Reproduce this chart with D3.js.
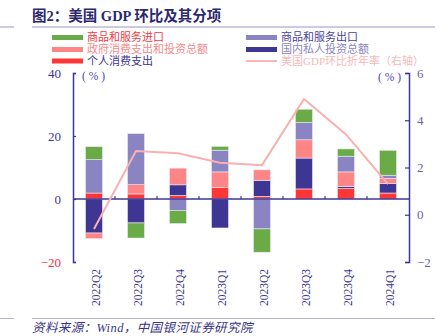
<!DOCTYPE html>
<html>
<head>
<meta charset="utf-8">
<script src="https://cdn.jsdelivr.net/npm/d3@7"></script>
<style>
  body { margin: 0; background: #fff; }
  svg text { font-family: "Liberation Serif", "Noto Sans CJK SC", serif; }
</style>
</head>
<body>
<div id="chart"></div>
<script>
// quarters and contributions (%), GDP q/q annualised on the right axis
const quarters = ["2022Q2", "2022Q3", "2022Q4", "2023Q1", "2023Q2", "2023Q3", "2023Q4", "2024Q1"];
const consumption = [1.9, 1.6, 1.1, 3.7, 0.85, 3.2, 3.3, 1.9];
const investment = [-10.8, -7.6, 3.4, -9.2, 5.1, 9.8, 0.7, 3.0];
const government = [-1.8, 2.95, 5.3, 4.9, 3.3, 5.8, 4.6, 1.6];
const exports = [10.6, 16.2, -3.6, 6.9, -9.5, 5.5, 5.0, 1.05];
const imports = [4.1, -4.8, -4.2, 1.2, -7.4, 4.2, 2.3, 7.9];
const gdp = [-0.6, 2.7, 2.6, 2.2, 2.1, 4.9, 3.4, 1.3];
const leftTicks = [-20, 0, 20, 40];
const rightTicks = [-2, 0, 2, 4, 6];

const W = 446, H = 336;
const navy = "#3d3694";

const keys = ["consumption", "investment", "government", "exports", "imports"];
const colors = {
  consumption: "#ff3636",
  investment: "#3f3592",
  government: "#fd8585",
  exports: "#8b84c2",
  imports: "#6aab48"
};

const rows = quarters.map((q, i) => ({
  q: q,
  consumption: consumption[i],
  investment: investment[i],
  government: government[i],
  exports: exports[i],
  imports: imports[i]
}));

const svg = d3.select("#chart").append("svg")
  .attr("width", W)
  .attr("height", H);

// title and rules
svg.append("text")
  .attr("x", 32).attr("y", 21)
  .attr("fill", "#2b2870")
  .style("font-size", "14.5px")
  .style("font-weight", "bold")
  .text("图2：美国 GDP 环比及其分项");

svg.append("line").attr("x1", 0).attr("x2", 14).attr("y1", 27).attr("y2", 27)
  .attr("stroke", "#9a96c8").attr("stroke-width", 1);
svg.append("line").attr("x1", 32).attr("x2", 435).attr("y1", 27).attr("y2", 27)
  .attr("stroke", "#9a96c8").attr("stroke-width", 1);

svg.append("line").attr("x1", 0).attr("x2", 14).attr("y1", 318.5).attr("y2", 318.5)
  .attr("stroke", "#b4b1d8").attr("stroke-width", 1);
svg.append("line").attr("x1", 32).attr("x2", 435).attr("y1", 318.5).attr("y2", 318.5)
  .attr("stroke", "#b4b1d8").attr("stroke-width", 1);

svg.append("text")
  .attr("x", 32).attr("y", 332)
  .attr("fill", "#3a3585")
  .style("font-size", "12.5px")
  .style("font-style", "italic")
  .style("letter-spacing", "0.4px")
  .text("资料来源：Wind，中国银河证券研究院");

// legend
const legend = [
  { label: "商品和服务进口", color: colors.imports, text: "#f03a46", x: 52, y: 37.5, type: "bar" },
  { label: "政府消费支出和投资总额", color: colors.government, text: "#f58a8a", x: 52, y: 49.5, type: "bar" },
  { label: "个人消费支出", color: colors.consumption, text: "#3b3590", x: 52, y: 61, type: "bar" },
  { label: "商品和服务出口", color: colors.exports, text: "#4a4398", x: 246, y: 37.5, type: "bar" },
  { label: "国内私人投资总额", color: colors.investment, text: "#8a85c0", x: 246, y: 49.5, type: "bar" },
  { label: "美国GDP环比折年率（右轴）", color: "#f9b4b4", text: "#f8b8b8", x: 246, y: 61, type: "line" }
];

const lg = svg.append("g").attr("class", "legend");
legend.forEach(d => {
  if (d.type === "bar") {
    lg.append("rect")
      .attr("x", d.x).attr("y", d.y - 2.5)
      .attr("width", 31).attr("height", 5)
      .attr("fill", d.color);
  } else {
    lg.append("line")
      .attr("x1", d.x).attr("x2", d.x + 31)
      .attr("y1", d.y).attr("y2", d.y)
      .attr("stroke", d.color).attr("stroke-width", 2);
  }
  lg.append("text")
    .attr("x", d.x + 35).attr("y", d.y)
    .attr("dy", "0.36em")
    .attr("fill", d.text)
    .style("font-size", "11px")
    .text(d.label);
});

// scales
const x = d3.scaleBand()
  .domain(quarters)
  .range([73, 409])
  .paddingInner(0.595)
  .paddingOuter(0.2975);

const yL = d3.scaleLinear().domain([-20, 40]).range([262, 73]);
const yR = d3.scaleLinear().domain([-2, 6]).range([262, 73]);

// stacked bars, positives up and negatives down
const stacked = d3.stack()
  .keys(keys)
  .offset(d3.stackOffsetDiverging)(rows);

svg.append("g").selectAll("g")
  .data(stacked)
  .join("g")
    .attr("fill", d => colors[d.key])
  .selectAll("rect")
  .data(d => d)
  .join("rect")
    .attr("x", d => x(d.data.q))
    .attr("width", x.bandwidth())
    .attr("y", d => yL(Math.max(d[0], d[1])))
    .attr("height", d => Math.abs(yL(d[0]) - yL(d[1])))
    .attr("stroke", "#ebe9f5")
    .attr("stroke-width", 0.6);

// zero line with category ticks
svg.append("line")
  .attr("x1", 73).attr("x2", 409)
  .attr("y1", yL(0)).attr("y2", yL(0))
  .attr("stroke", navy).attr("stroke-width", 1.5);

svg.append("g").selectAll("line")
  .data(quarters.slice(1))
  .join("line")
    .attr("x1", d => x(d) - x.step() * x.paddingInner() / 2)
    .attr("x2", d => x(d) - x.step() * x.paddingInner() / 2)
    .attr("y1", yL(0)).attr("y2", yL(0) - 3)
    .attr("stroke", navy).attr("stroke-width", 1.2);

// category labels, rotated
svg.append("g").selectAll("text")
  .data(quarters)
  .join("text")
    .attr("transform", d => "translate(" + (x(d) + x.bandwidth() / 2 + 2) + ",269) rotate(-90)")
    .attr("text-anchor", "end")
    .attr("dy", "0.35em")
    .attr("fill", navy)
    .style("font-size", "11.5px")
    .text(d => d);

// left axis
const gL = svg.append("g")
  .attr("transform", "translate(73,0)")
  .call(d3.axisLeft(yL).tickValues(leftTicks).tickSizeInner(-3).tickSizeOuter(-3).tickPadding(12));
gL.select(".domain").attr("stroke", navy).attr("stroke-width", 1.5);
gL.selectAll(".tick line").attr("stroke", navy).attr("stroke-width", 1.2);
gL.selectAll(".tick text")
  .attr("fill", d => d < 0 ? "#e8343c" : navy)
  .style("font-size", "13px")
  .style("font-family", "'Liberation Serif', serif")
  .text(d => d < 0 ? "\u2212" + Math.abs(d) : d);

// right axis
const gR = svg.append("g")
  .attr("transform", "translate(409,0)")
  .call(d3.axisRight(yR).tickValues(rightTicks).tickSizeInner(-4).tickSizeOuter(-4).tickPadding(8));
gR.select(".domain").attr("stroke", navy).attr("stroke-width", 1.5);
gR.selectAll(".tick line").attr("stroke", navy).attr("stroke-width", 1.2);
gR.selectAll(".tick text")
  .attr("fill", "#6b64b0")
  .style("font-size", "13px")
  .style("font-family", "'Liberation Serif', serif")
  .text(d => d < 0 ? "\u2212" + Math.abs(d) : d);

// unit labels
svg.append("text").attr("x", 82).attr("y", 76).attr("dy", "0.35em")
  .attr("fill", "#4e48a0").style("font-size", "11.5px").attr("xml:space", "preserve")
  .style("white-space", "pre").text("( % )");
svg.append("text").attr("x", 378).attr("y", 77).attr("dy", "0.35em")
  .attr("fill", "#4e48a0").style("font-size", "11.5px")
  .style("white-space", "pre").text("( % )");

// GDP line on the right axis
const line = d3.line()
  .x((d, i) => x(quarters[i]) + x.bandwidth() / 2)
  .y(d => yR(d));

svg.append("path")
  .datum(gdp)
  .attr("d", line)
  .attr("fill", "none")
  .attr("stroke", "#f9b0b0")
  .attr("stroke-width", 2);
</script>
</body>
</html>
